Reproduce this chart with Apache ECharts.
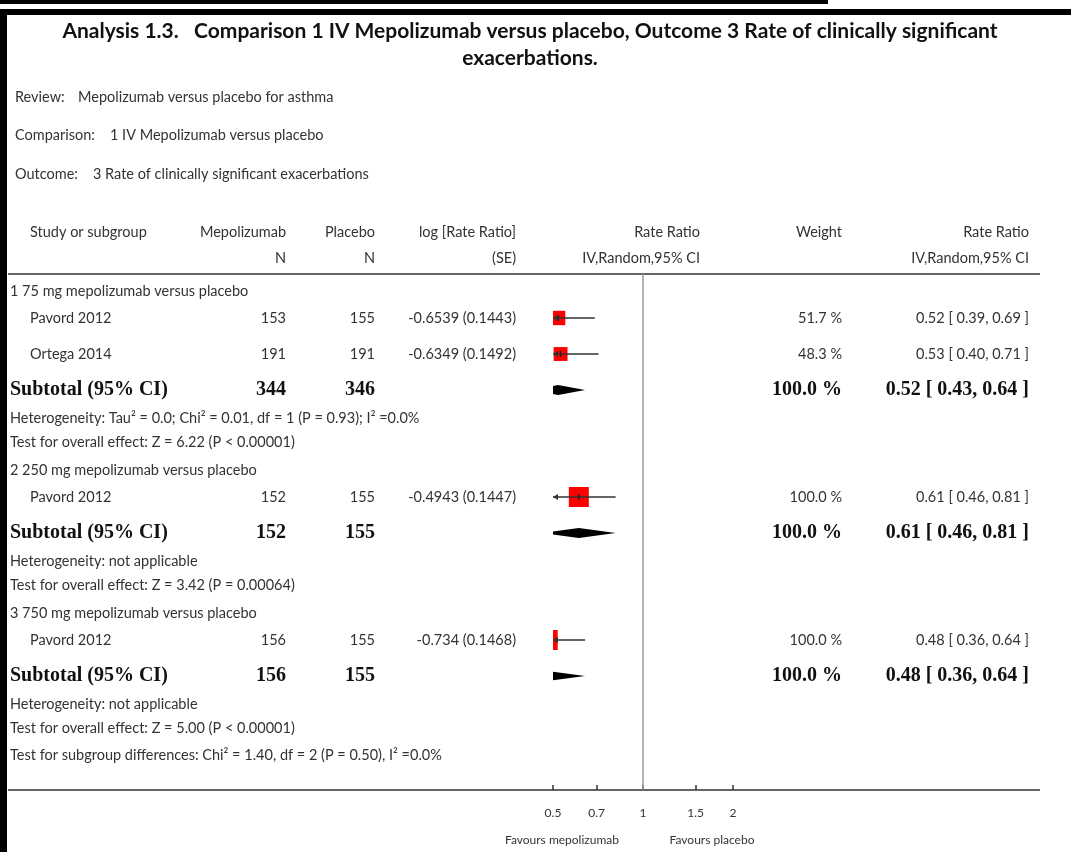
<!DOCTYPE html>
<html>
<head>
<meta charset="utf-8">
<script src="https://cdn.jsdelivr.net/npm/echarts@6/dist/echarts.min.js"></script>
<style>
  html, body { margin: 0; padding: 0; background: #fff; }
  #chart { width: 1071px; height: 852px; }
</style>
</head>
<body>
<div id="chart"></div>
<script>
// ---- Study-level data ----
const studyNames   = ['Pavord 2012', 'Ortega 2014', 'Pavord 2012', 'Pavord 2012'];
const studyGroup   = [0, 0, 1, 2];
const mepoN        = [153, 191, 152, 156];
const placeboN     = [155, 191, 155, 155];
const logRateRatio = ['-0.6539', '-0.6349', '-0.4943', '-0.734'];
const logSE        = ['0.1443', '0.1492', '0.1447', '0.1468'];
const rateRatio    = [0.52, 0.53, 0.61, 0.48];
const ciLow        = [0.39, 0.40, 0.46, 0.36];
const ciHigh       = [0.69, 0.71, 0.81, 0.64];
const weights      = [51.7, 48.3, 100.0, 100.0];

// ---- Subgroup totals ----
const groupNames   = ['1 75 mg mepolizumab versus placebo',
                      '2 250 mg mepolizumab versus placebo',
                      '3 750 mg mepolizumab versus placebo'];
const subMepoN     = [344, 152, 156];
const subPlaceboN  = [346, 155, 155];
const subRate      = [0.52, 0.61, 0.48];
const subLow       = [0.43, 0.46, 0.36];
const subHigh      = [0.64, 0.81, 0.64];
const subWeight    = [100.0, 100.0, 100.0];
const heterogeneity = ['Heterogeneity: Tau² = 0.0; Chi² = 0.01, df = 1 (P = 0.93); I² =0.0%',
                       'Heterogeneity: not applicable',
                       'Heterogeneity: not applicable'];
const overallEffect = ['Test for overall effect: Z = 6.22 (P < 0.00001)',
                       'Test for overall effect: Z = 3.42 (P = 0.00064)',
                       'Test for overall effect: Z = 5.00 (P < 0.00001)'];
const subgroupTest  = 'Test for subgroup differences: Chi² = 1.40, df = 2 (P = 0.50), I² =0.0%';

// ---- Axis ----
const tickValues = [0.5, 0.7, 1, 1.5, 2];
const tickLabels = ['0.5', '0.7', '1', '1.5', '2'];
const axisMin = 0.5, axisMax = 2;

// ---- Layout ----
const SANS = 'Lato, "Open Sans", sans-serif';
const SERIF = '"Liberation Serif", "DejaVu Serif", serif';
const TXT = '#333';
const BODY = '14.5px ' + SANS;
const GRID = { left: 553, top: 274, width: 180, height: 516 };
const COL = { name: 30, note: 10, mepo: 286, plac: 375, log: 516, plot: 700, weight: 842, rr: 1029 };
const LEAD = { firstGroup: 17, group: 28, studyAfterGroup: 27, study: 36, subtotal: 36, het: 28, test: 24, subgroupTest: 27 };
const BOX = 20;

const fmt2 = v => v.toFixed(2);
const fmtCI = (e, l, h) => fmt2(e) + ' [ ' + fmt2(l) + ', ' + fmt2(h) + ' ]';

// Build table rows (vertical position in grid units, grid spans 0..GRID.height)
const rows = [];
let y = 0, prev = null;
function push(kind, extra) {
  let lead;
  if (kind === 'group') lead = prev === null ? LEAD.firstGroup : LEAD.group;
  else if (kind === 'study') lead = prev === 'group' ? LEAD.studyAfterGroup : LEAD.study;
  else lead = LEAD[kind];
  y += lead;
  rows.push(Object.assign({ kind: kind, y: y }, extra));
  prev = kind;
}
groupNames.forEach((g, gi) => {
  push('group', { text: g });
  studyNames.forEach((s, si) => { if (studyGroup[si] === gi) push('study', { idx: si }); });
  push('subtotal', { idx: gi });
  push('het', { text: heterogeneity[gi] });
  push('test', { text: overallEffect[gi] });
});
push('subgroupTest', { text: subgroupTest });

function txt(x, yy, text, align, opt) {
  return {
    type: 'text',
    style: Object.assign({
      x: x, y: yy, text: text, align: align, verticalAlign: 'middle',
      fill: TXT, font: BODY
    }, opt || {})
  };
}

function renderTableRow(params, api) {
  const r = rows[params.dataIndex];
  const py = api.coord([0, r.y])[1];
  const kids = [];
  if (r.kind === 'study') {
    const i = r.idx;
    kids.push(txt(COL.name, py, studyNames[i], 'left'));
    kids.push(txt(COL.mepo, py, String(mepoN[i]), 'right'));
    kids.push(txt(COL.plac, py, String(placeboN[i]), 'right'));
    kids.push(txt(COL.log, py, logRateRatio[i] + ' (' + logSE[i] + ')', 'right'));
    kids.push(txt(COL.weight, py, weights[i].toFixed(1) + ' %', 'right'));
    kids.push(txt(COL.rr, py, fmtCI(rateRatio[i], ciLow[i], ciHigh[i]), 'right'));
  } else if (r.kind === 'subtotal') {
    const i = r.idx;
    const bold = { font: 'bold 20px ' + SERIF, fill: '#111' };
    kids.push(txt(COL.note, py, 'Subtotal (95% CI)', 'left', bold));
    kids.push(txt(COL.mepo, py, String(subMepoN[i]), 'right', bold));
    kids.push(txt(COL.plac, py, String(subPlaceboN[i]), 'right', bold));
    kids.push(txt(COL.weight, py, subWeight[i].toFixed(1) + ' %', 'right', bold));
    kids.push(txt(COL.rr, py, fmtCI(subRate[i], subLow[i], subHigh[i]), 'right', bold));
  } else {
    kids.push(txt(COL.note, py, r.text, 'left'));
  }
  return { type: 'group', children: kids };
}

function renderForest(params, api) {
  const r = rows[params.dataIndex];
  if (r.kind !== 'study' && r.kind !== 'subtotal') return null;
  const py = api.coord([0, r.y])[1];
  const xMin = api.coord([Math.log(axisMin), r.y])[0];
  const xMax = api.coord([Math.log(axisMax), r.y])[0];
  const X = v => api.coord([Math.log(v), r.y])[0];
  const kids = [];
  if (r.kind === 'study') {
    const i = r.idx;
    const xe = X(rateRatio[i]), xl = X(ciLow[i]), xh = X(ciHigh[i]);
    const side = BOX * Math.sqrt(weights[i] / 100);
    kids.push({ type: 'rect', shape: { x: xe - side / 2, y: py - side / 2, width: side, height: side },
                style: { fill: '#ff0000' } });
    kids.push({ type: 'line', shape: { x1: Math.max(xl, xMin), y1: py, x2: Math.min(xh, xMax), y2: py },
                style: { stroke: '#333', lineWidth: 1.5 } });
    kids.push({ type: 'line', shape: { x1: xe, y1: py - 3, x2: xe, y2: py + 3 },
                style: { stroke: '#222', lineWidth: 1.5 } });
    if (xl < xMin) {
      kids.push({ type: 'polygon', shape: { points: [[xMin, py], [xMin + 5, py - 3], [xMin + 5, py + 3]] },
                  style: { fill: '#333' } });
    }
    if (xh > xMax) {
      kids.push({ type: 'polygon', shape: { points: [[xMax, py], [xMax - 5, py - 3], [xMax - 5, py + 3]] },
                  style: { fill: '#333' } });
    }
  } else {
    const i = r.idx;
    const xe = X(subRate[i]), xl = X(subLow[i]), xh = X(subHigh[i]);
    kids.push({ type: 'polygon', shape: { points: [[xl, py], [xe, py - 5], [xh, py], [xe, py + 5]] },
                style: { fill: '#000' } });
  }
  return { type: 'group', children: kids };
}

function renderRefLine(params, api) {
  const top = api.coord([0, 0]);
  const bot = api.coord([0, GRID.height]);
  return { type: 'line', shape: { x1: top[0], y1: top[1], x2: bot[0], y2: bot[1] },
           style: { stroke: '#999', lineWidth: 1.5 } };
}

const logTicks = tickValues.map(v => Math.log(v));

const headerY1 = 232, headerY2 = 258;
function gtext(x, yy, text, align, font, fill) {
  return { type: 'text', style: { x: x, y: yy, text: text, align: align || 'left', verticalAlign: 'middle',
           font: font || BODY, fill: fill || TXT } };
}
const TITLE_FONT = 'bold 21px ' + SANS;
const graphic = [
  // page frame
  { type: 'rect', shape: { x: 0, y: 0, width: 828, height: 4 }, style: { fill: '#000' } },
  { type: 'rect', shape: { x: 0, y: 9, width: 1071, height: 6 }, style: { fill: '#000' } },
  { type: 'rect', shape: { x: 0, y: 9, width: 7, height: 843 }, style: { fill: '#000' } },
  // title
  gtext(530, 31, 'Analysis 1.3.   Comparison 1 IV Mepolizumab versus placebo, Outcome 3 Rate of clinically significant', 'center', TITLE_FONT, '#111'),
  gtext(530, 58, 'exacerbations.', 'center', TITLE_FONT, '#111'),
  // review info
  gtext(15, 97, 'Review:'),
  gtext(78, 97, 'Mepolizumab versus placebo for asthma'),
  gtext(15, 135, 'Comparison:'),
  gtext(110, 135, '1 IV Mepolizumab versus placebo'),
  gtext(15, 174, 'Outcome:'),
  gtext(93, 174, '3 Rate of clinically significant exacerbations'),
  // column headers
  gtext(COL.name, headerY1, 'Study or subgroup'),
  gtext(COL.mepo, headerY1, 'Mepolizumab', 'right'),
  gtext(COL.mepo, headerY2, 'N', 'right'),
  gtext(COL.plac, headerY1, 'Placebo', 'right'),
  gtext(COL.plac, headerY2, 'N', 'right'),
  gtext(COL.log, headerY1, 'log [Rate Ratio]', 'right'),
  gtext(COL.log, headerY2, '(SE)', 'right'),
  gtext(COL.plot, headerY1, 'Rate Ratio', 'right'),
  gtext(COL.plot, headerY2, 'IV,Random,95% CI', 'right'),
  gtext(COL.weight, headerY1, 'Weight', 'right'),
  gtext(COL.rr, headerY1, 'Rate Ratio', 'right'),
  gtext(COL.rr, headerY2, 'IV,Random,95% CI', 'right'),
  // rules
  { type: 'line', shape: { x1: 8, y1: GRID.top, x2: 1040, y2: GRID.top }, style: { stroke: '#333', lineWidth: 1.5 } },
  { type: 'line', shape: { x1: 8, y1: GRID.top + GRID.height, x2: 1040, y2: GRID.top + GRID.height }, style: { stroke: '#333', lineWidth: 1.5 } },
  // favours labels
  gtext(562, 840, 'Favours mepolizumab', 'center', '12px ' + SANS),
  gtext(712, 840, 'Favours placebo', 'center', '12px ' + SANS)
];

const chart = echarts.init(document.getElementById('chart'), null, { renderer: 'canvas' });
chart.setOption({
  animation: false,
  backgroundColor: '#fff',
  grid: { left: GRID.left, top: GRID.top, width: GRID.width, height: GRID.height, containLabel: false },
  xAxis: {
    type: 'value', position: 'bottom', min: Math.log(axisMin), max: Math.log(axisMax),
    axisLine: { show: false, onZero: false },
    splitLine: { show: false },
    axisTick: { show: true, inside: true, length: 5, customValues: logTicks, lineStyle: { color: '#333', width: 1.5 } },
    axisLabel: {
      customValues: logTicks, margin: 17, fontSize: 12, fontFamily: SANS, color: TXT,
      formatter: v => {
        const k = logTicks.findIndex(t => Math.abs(t - v) < 1e-9);
        return k >= 0 ? tickLabels[k] : '';
      }
    }
  },
  yAxis: { type: 'value', inverse: true, min: 0, max: GRID.height, show: false },
  graphic: graphic,
  series: [
    { type: 'custom', renderItem: renderRefLine, data: [[0, 0]], clip: false, silent: true, z: 1 },
    { type: 'custom', renderItem: renderForest, data: rows.map((r, i) => [i, r.y]), clip: true, silent: true, z: 3 },
    { type: 'custom', renderItem: renderTableRow, data: rows.map((r, i) => [i, r.y]), clip: false, silent: true, z: 4 }
  ]
});
</script>
</body>
</html>
